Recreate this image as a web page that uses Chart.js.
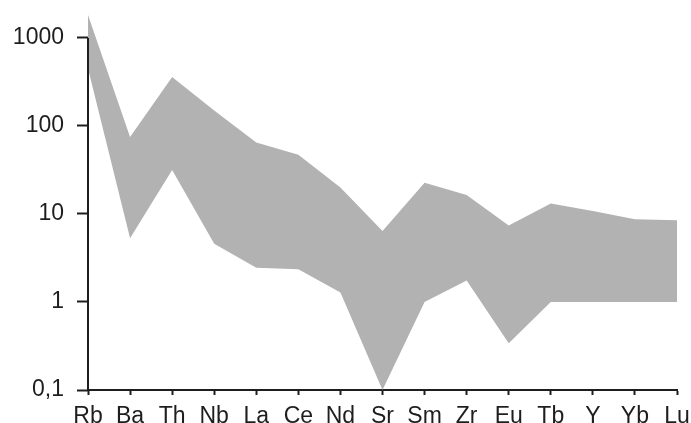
<!DOCTYPE html>
<html>
<head>
<meta charset="utf-8">
<script src="https://cdn.jsdelivr.net/npm/chart.js@4/dist/chart.umd.min.js"></script>
<style>
  html, body { margin: 0; padding: 0; background: #fff; }
  #wrap { width: 691px; height: 423px; }
</style>
</head>
<body>
<div id="wrap"><canvas id="chart"></canvas></div>
<script>
const elements = ['Rb', 'Ba', 'Th', 'Nb', 'La', 'Ce', 'Nd', 'Sr', 'Sm', 'Zr', 'Eu', 'Tb', 'Y', 'Yb', 'Lu'];
const upperValues = [1820, 75, 360, 150, 65, 47, 20, 6.4, 22.7, 16.4, 7.4, 13.2, 10.8, 8.7, 8.5];
const lowerValues = [450, 5.3, 31.6, 4.6, 2.45, 2.35, 1.28, 0.1, 1.0, 1.75, 0.34, 1.0, 1.0, 1.0, 1.0];
const yTicks = [0.1, 1, 10, 100, 1000];

const ink = '#1e1e1e';
const band = '#b2b2b2';

// y axis line only runs from the top tick down, the band pokes out above it
const axisLine = {
  id: 'axisLine',
  afterDatasetsDraw(chart) {
    const y = chart.scales.y;
    const ctx = chart.ctx;
    ctx.save();
    ctx.strokeStyle = ink;
    ctx.lineWidth = 2;
    ctx.beginPath();
    ctx.moveTo(chart.chartArea.left, y.getPixelForValue(1000));
    ctx.lineTo(chart.chartArea.left, chart.chartArea.bottom + 1);
    ctx.stroke();
    ctx.restore();
  }
};

const ctx = document.getElementById('chart').getContext('2d');
new Chart(ctx, {
  type: 'line',
  data: {
    labels: elements,
    datasets: [{
      data: upperValues,
      borderWidth: 0,
      borderColor: band,
      backgroundColor: band,
      pointRadius: 0,
      fill: '+1'
    }, {
      data: lowerValues,
      borderWidth: 0,
      borderColor: band,
      backgroundColor: band,
      pointRadius: 0,
      fill: false
    }]
  },
  options: {
    responsive: true,
    maintainAspectRatio: false,
    animation: false,
    layout: { padding: { top: 12, right: 14, left: 0, bottom: 0 } },
    plugins: {
      legend: { display: false },
      tooltip: { enabled: false }
    },
    scales: {
      x: {
        grid: { drawOnChartArea: false, tickLength: 5, tickWidth: 2, tickColor: ink },
        border: { display: true, color: ink, width: 2 },
        ticks: {
          color: ink,
          autoSkip: false,
          maxRotation: 0,
          padding: 8,
          font: { family: 'Liberation Sans, Arial, sans-serif', size: 23 }
        },
        afterFit(scale) {
          scale.height = 33;
          scale.paddingLeft = 0;
          scale.paddingRight = 0;
        }
      },
      y: {
        type: 'logarithmic',
        min: 0.1,
        max: 1974,
        grid: { drawOnChartArea: false, tickLength: 11, tickWidth: 2, tickColor: ink },
        border: { display: false },
        afterBuildTicks(scale) {
          scale.ticks = yTicks.map(v => ({ value: v }));
        },
        ticks: {
          color: ink,
          padding: 13,
          font: { family: 'Liberation Sans, Arial, sans-serif', size: 23 },
          callback: v => v === 0.1 ? '0,1' : String(v)
        },
        afterFit(scale) {
          scale.width = 88;
          scale.paddingTop = 0;
          scale.paddingBottom = 0;
        }
      }
    }
  },
  plugins: [axisLine]
});
</script>
</body>
</html>
